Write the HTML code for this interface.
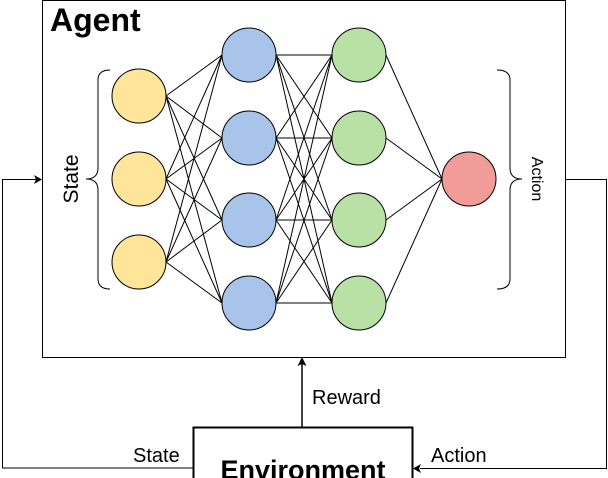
<!DOCTYPE html>
<html><head><style>body{margin:0;background:#fff}svg{display:block}</style></head><body>
<svg width="608" height="478" viewBox="0 0 608 478" xmlns="http://www.w3.org/2000/svg" font-family="Liberation Sans, sans-serif">
<rect x="42.5" y="0.5" width="523" height="357" fill="#fff" stroke="#000"/>
<text x="50" y="31" font-size="32" font-weight="bold">Agent</text>
<g stroke="#000" stroke-width="1">
<path d="M166 96L222 55M166 96L222 138M166 96L222 220M166 96L222 303M166 179L222 55M166 179L222 138M166 179L222 220M166 179L222 303M166 262L222 55M166 262L222 138M166 262L222 220M166 262L222 303"/>
<path d="M276 55L332 55M276 55L332 138M276 55L332 220M276 55L332 303M276 138L332 55M276 138L332 138M276 138L332 220M276 138L332 303M276 220L332 55M276 220L332 138M276 220L332 220M276 220L332 303M276 303L332 55M276 303L332 138M276 303L332 220M276 303L332 303"/>
<path d="M386 55L442 179M386 138L442 179M386 220L442 179M386 303L442 179"/>
</g>
<g stroke="#000" stroke-width="1">
<circle cx="139" cy="96" r="27" fill="#ffe599"/><circle cx="139" cy="179" r="27" fill="#ffe599"/><circle cx="139" cy="262" r="27" fill="#ffe599"/>
<circle cx="249" cy="55" r="27" fill="#a9c4eb"/><circle cx="249" cy="138" r="27" fill="#a9c4eb"/><circle cx="249" cy="220" r="27" fill="#a9c4eb"/><circle cx="249" cy="303" r="27" fill="#a9c4eb"/>
<circle cx="359" cy="55" r="27" fill="#b9e0a5"/><circle cx="359" cy="138" r="27" fill="#b9e0a5"/><circle cx="359" cy="220" r="27" fill="#b9e0a5"/><circle cx="359" cy="303" r="27" fill="#b9e0a5"/>
<circle cx="469" cy="179" r="27" fill="#f19c99"/>
</g>
<g fill="none" stroke="#000">
<path d="M110 70Q98 70 98 80L98 168Q98 179 86 179Q98 179 98 190L98 279Q98 289 110 289"/>
<path d="M497 70Q510 70 510 80L510 168Q510 179 522 179Q510 179 510 190L510 279Q510 289 497 289"/>
</g>
<text transform="translate(78,179) rotate(-90)" font-size="21" text-anchor="middle">State</text>
<text transform="translate(532,179) rotate(90)" font-size="16" text-anchor="middle">Action</text>
<g fill="none" stroke="#000">
<path d="M193 468H2.5V179.5H36"/>
<path d="M566 179.5H606.5V468.5H420"/>
<path d="M302 427V364" stroke-width="1.5"/>
</g>
<path d="M42 179.5L34 175L36 179.5L34 184Z"/>
<path d="M413 468.5L421 464L419 468.5L421 473Z"/>
<path d="M302 357L297.5 366L302 364L306.5 366Z"/>
<rect x="193.5" y="427.5" width="219" height="60" fill="#fff" stroke="#000" stroke-width="2"/>
<text x="303" y="479" font-size="27" font-weight="bold" text-anchor="middle">Environment</text>
<text x="312" y="404" font-size="20">Reward</text>
<text x="133" y="462" font-size="20">State</text>
<text x="431" y="462" font-size="20">Action</text>
</svg>
</body></html>
